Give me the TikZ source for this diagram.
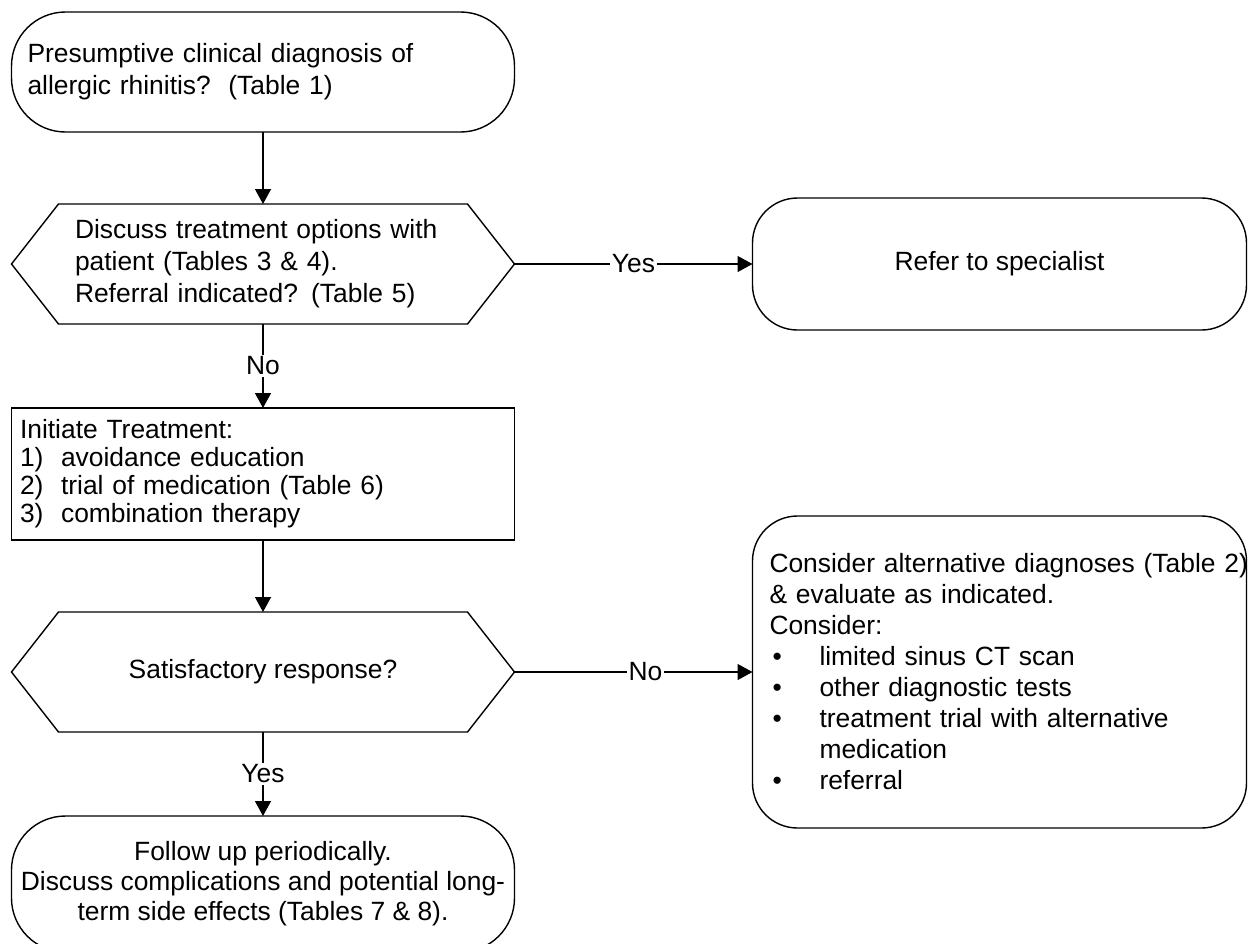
\documentclass[tikz,border=0pt]{standalone}
\usepackage{fontspec}
\setmainfont{Liberation Sans}
\usetikzlibrary{arrows.meta}
\tikzset{
  flowline/.style={line width=0.7pt,-{Triangle[length=7.5pt,width=8pt]}},
  termbox/.style={draw,line width=0.7pt,rounded corners=27pt,outer sep=0pt,minimum width=251.5pt,minimum height=60pt},
  hexnode/.style={outer sep=0pt,minimum width=251.5pt,minimum height=60pt},
  stepbox/.style={draw,line width=0.7pt,outer sep=0pt,minimum width=251.5pt,minimum height=66pt},
  lbl/.style={fill=white,inner sep=1pt}
}
\newcommand{\hexoutline}[1]{%
  \draw[line width=0.7pt] ([xshift=23.5pt]#1.north west) -- ([xshift=-23.5pt]#1.north east) -- (#1.east)
    -- ([xshift=-23.5pt]#1.south east) -- ([xshift=23.5pt]#1.south west) -- (#1.west) -- cycle;}
\newcommand{\bul}{\makebox[25pt][l]{\hspace{1.5pt}•}}

\begin{document}
\begin{tikzpicture}[x=0.5pt,y=-0.5pt,font=\fontsize{13.2pt}{16pt}\selectfont]
\useasboundingbox (0,0) rectangle (1248,943);
\clip (0,0) rectangle (1248,943);
% left column
\node[termbox,text width=235.5pt,align=left] (diag) at (263,72) {Presumptive clinical diagnosis of\\allergic rhinitis?\ \ (Table 1)};
\node[hexnode,text width=188pt,align=left] (discuss) at (263,264) {Discuss treatment options with\\patient (Tables 3 \& 4).\\Referral indicated? (Table 5)};
\hexoutline{discuss}
\node[stepbox,text width=243pt,align=left,font=\fontsize{13.2pt}{14pt}\selectfont] (treat) at (263,474) {Initiate Treatment:\\1)\ \ avoidance education\\2)\ \ trial of medication (Table 6)\\3)\ \ combination therapy\\[-8pt]};
\node[hexnode] (response) at (263,672) {Satisfactory response?};
\hexoutline{response}
\node[termbox,minimum height=68pt,align=center,font=\fontsize{13.2pt}{15pt}\selectfont] (follow) at (263,884) {Follow up periodically.\\Discuss complications and potential long-\\term side effects (Tables 7 \& 8).};
% right column
\node[termbox,minimum width=247pt,minimum height=66pt,rounded corners=22.5pt] (refer) at (999.5,264) {Refer to specialist};
\node[termbox,minimum width=247pt,minimum height=156pt,rounded corners=22.5pt,text width=230pt,align=left,font=\fontsize{13.2pt}{15.5pt}\selectfont] (alt) at (999.5,672) {\mbox{Consider alternative diagnoses (Table 2)}\\\& evaluate as indicated.\\Consider:\\\bul limited sinus CT scan\\\bul other diagnostic tests\\\bul treatment trial with alternative\\\hspace*{25pt}medication\\\bul referral};
% connectors
\draw[flowline] (diag) -- (discuss);
\draw[flowline] (discuss) -- node[lbl]{Yes} (refer);
\draw[flowline] (discuss) -- node[lbl]{No} (treat);
\draw[flowline] (treat) -- (response);
\draw[flowline] (response) -- node[lbl,pos=0.55]{No} (alt);
\draw[flowline] (response) -- node[lbl]{Yes} (follow);
\end{tikzpicture}
\end{document}
